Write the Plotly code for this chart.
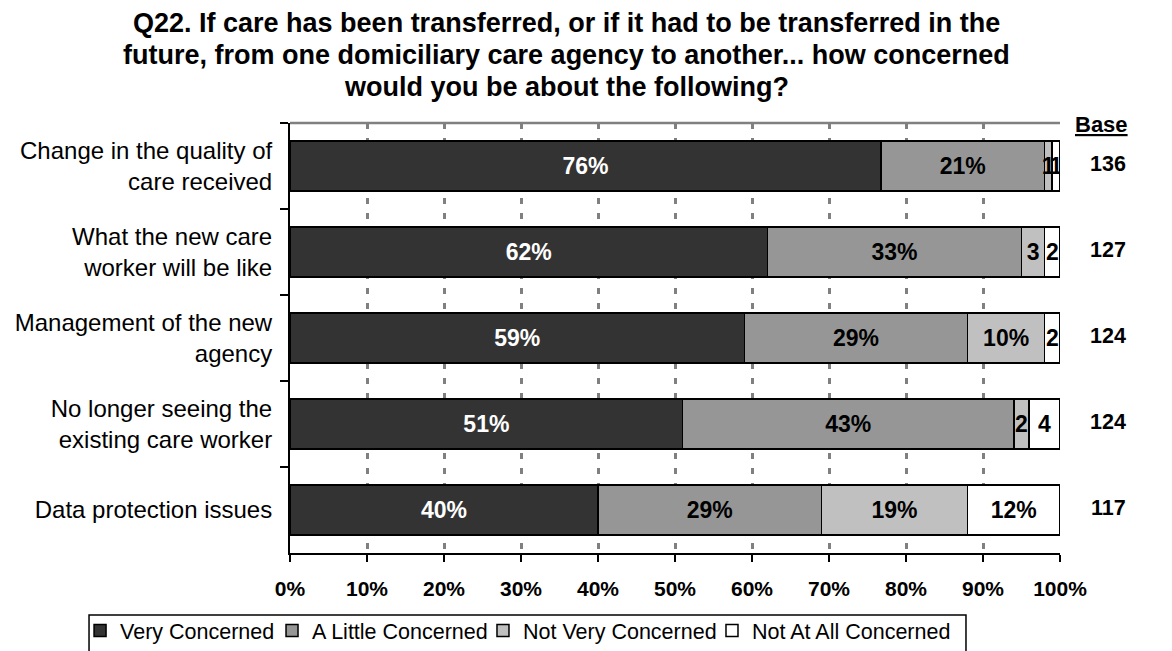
import plotly.graph_objects as go

# Survey statements (top to bottom) and respondent bases
categories = [
    "Change in the quality of<br>care received",
    "What the new care<br>worker will be like",
    "Management of the new<br>agency",
    "No longer seeing the<br>existing care worker",
    "Data protection issues",
]
bases = [136, 127, 124, 124, 117]

# Response shares (%) per statement
very_concerned = [76, 62, 59, 51, 40]
little_concerned = [21, 33, 29, 43, 29]
not_very_concerned = [1, 3, 10, 2, 19]
not_at_all_concerned = [1, 2, 2, 4, 12]

series = [
    ("Very Concerned", very_concerned, "#333333", "white"),
    ("A Little Concerned", little_concerned, "#969696", "black"),
    ("Not Very Concerned", not_very_concerned, "#C0C0C0", "black"),
    ("Not At All Concerned", not_at_all_concerned, "#FFFFFF", "black"),
]

title_lines = [
    "Q22. If care has been transferred, or if it had to be transferred in the",
    "future, from one domiciliary care agency to another... how concerned",
    "would you be about the following?",
]

x_ticks = list(range(0, 101, 10))

FONT = "Liberation Sans, Arial, sans-serif"

# one legend box per series so each entry sits where it belongs in the row
# (positions are fractions of the whole figure width)
legend_ids = ["legend", "legend2", "legend3", "legend4"]
legend_x = [0.0683, 0.2321, 0.4121, 0.6075]


def seg_label(v):
    return f"{v}%" if v >= 5 else f"{v}"


fig = go.Figure()
for (name, vals, color, txtcolor), lid in zip(series, legend_ids):
    fig.add_trace(go.Bar(
        name=name,
        y=categories,
        x=vals,
        orientation="h",
        legend=lid,
        showlegend=True,
        marker=dict(color=color, line=dict(color="black", width=1.5)),
        text=[seg_label(v) for v in vals],
        textposition="inside",
        insidetextanchor="middle",
        textangle=0,
        constraintext="none",
        textfont=dict(family=FONT, size=23, color=txtcolor, weight="bold"),
        hoverinfo="skip",
    ))

annotations = []
# three-line chart title
for line, yy in zip(title_lines, [1.2326, 1.1581, 1.0837]):
    annotations.append(dict(
        x=0.3597, xref="paper", y=yy, yref="paper", yanchor="middle",
        xanchor="center", text=f"<b>{line}</b>", showarrow=False,
        font=dict(family=FONT, size=27, color="black"),
    ))

# Base column on the right
annotations.append(dict(
    x=1.0909, xref="paper", y=1.0, yref="paper", yanchor="middle",
    text="<b><u>Base</u></b>", showarrow=False, yshift=-1,
    font=dict(family=FONT, size=22, color="black"),
))
for cat, b in zip(categories, bases):
    annotations.append(dict(
        x=1.0877, xref="paper", y=cat, yref="y", yshift=2,
        text=f"<b>{b}</b>", showarrow=False,
        font=dict(family=FONT, size=21.5, color="black"),
    ))

shapes = [
    # top border of plot area
    dict(type="line", xref="paper", yref="paper", x0=0, x1=1, y0=1, y1=1,
         line=dict(color="#808080", width=2.5)),
    # legend frame (runs off the bottom edge)
    dict(type="path", xref="paper", yref="paper",
         path="M -0.2610,-0.32 L -0.2610,-0.1442 L 0.8779,-0.1442 L 0.8779,-0.32",
         line=dict(color="black", width=1.5)),
]

legend_common = dict(
    orientation="h", xref="container", yref="container",
    y=0.0630, yanchor="top", xanchor="left",
    font=dict(family=FONT, size=21.5, color="black"),
    bgcolor="rgba(0,0,0,0)", borderwidth=0,
)

fig.update_layout(
    width=1172, height=651,
    margin=dict(l=290, r=112, t=123, b=98, autoexpand=False),
    paper_bgcolor="white", plot_bgcolor="white",
    showlegend=True,
    barmode="stack", barnorm="percent", bargap=0.42,
    font=dict(family=FONT, color="black"),
    xaxis=dict(
        range=[0, 100], tickvals=x_ticks, ticktext=[f"{t}%" for t in x_ticks],
        tickfont=dict(family=FONT, size=21, color="black", weight="bold"),
        showgrid=True, gridcolor="#808080", gridwidth=2.5, griddash="6px,9px",
        showline=True, linecolor="black", linewidth=2,
        ticks="outside", ticklen=7, tickwidth=2, tickcolor="black",
        ticklabelstandoff=9,
        zeroline=False, fixedrange=True,
    ),
    yaxis=dict(
        autorange="reversed", tickson="boundaries",
        tickfont=dict(family=FONT, size=24, color="black"),
        showline=True, linecolor="black", linewidth=2,
        ticks="outside", ticklen=8, tickwidth=2, tickcolor="black",
        showgrid=False, ticklabelstandoff=11,
    ),
    uniformtext=dict(minsize=23, mode="show"),
    annotations=annotations,
    shapes=shapes,
)
for lid, lx in zip(legend_ids, legend_x):
    fig.update_layout({lid: dict(legend_common, x=lx)})

fig.write_html("out.html")
